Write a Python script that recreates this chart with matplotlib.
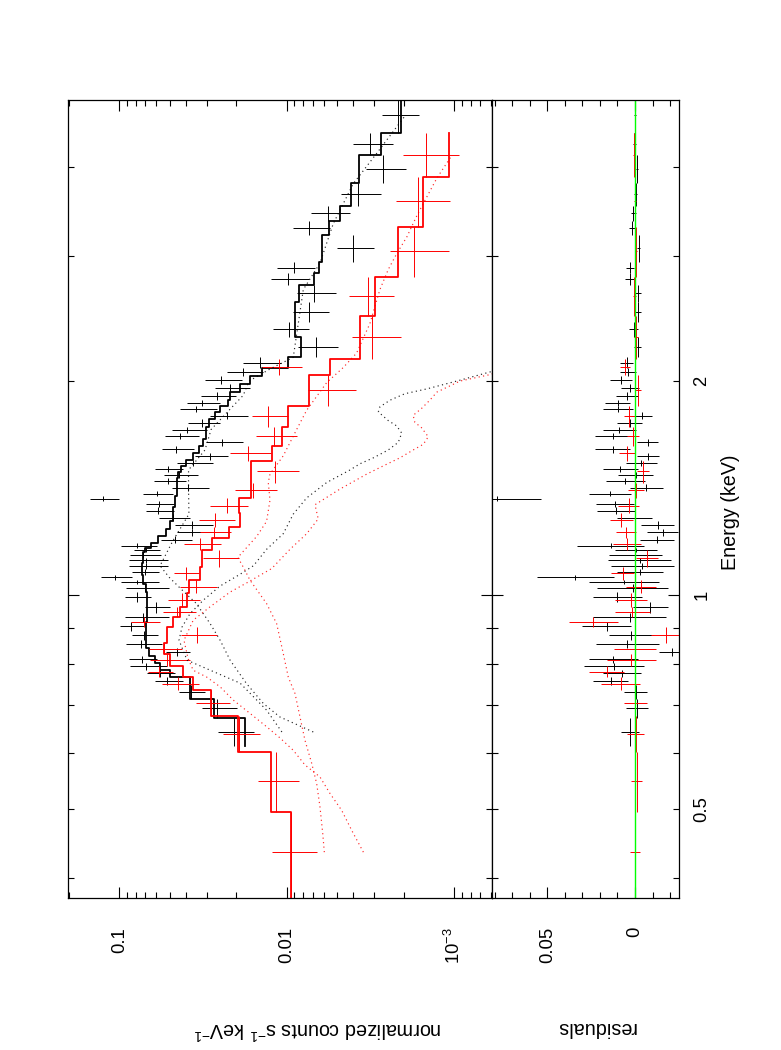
import numpy as np
import matplotlib
matplotlib.use("Agg")
import matplotlib.pyplot as plt
from matplotlib.ticker import FixedLocator, FixedFormatter, FuncFormatter, MultipleLocator, LogLocator, NullFormatter

# bin edges in keV, rates in units of 1e-3 counts s^-1 keV^-1
black_edges = [0.6132, 0.6721, 0.7152, 0.7471, 0.7675, 0.7856, 0.8028, 0.8212, 0.8436, 0.8652,
               0.8905, 0.9163, 0.9449, 0.9776, 1.01, 1.036, 1.051, 1.069, 1.09, 1.109, 1.129, 1.149, 1.163,
               1.183, 1.211, 1.24, 1.271, 1.3, 1.329, 1.355, 1.377, 1.401, 1.431, 1.461, 1.489, 1.517,
               1.55, 1.587, 1.623, 1.66, 1.693, 1.725, 1.768, 1.809, 1.843, 1.882, 1.931, 1.983, 2.031,
               2.084, 2.164, 2.309, 2.423, 2.586, 2.729, 2.835, 2.943, 3.209, 3.358, 3.529, 3.794, 4.158,
               4.461, 5.002]
black_counts = [20.7, 26.1, 37.3, 51.6, 57.3, 69.2, 73.5, 45.2, 73.7, 71.4, 85.5, 71.7, 60, 78.7,
                70.7, 78.1, 106, 70.6, 69.3, 69.3, 71.7, 69.4, 78.7, 46.7, 36.8, 36.9, 47.8, 58.4, 57.9,
                125, 59.7, 38.9, 50.9, 43.9, 51.4, 36.4, 28.8, 45.9, 24.3, 43.2, 39.3, 32.1, 22.9, 34.8,
                32.2, 26.2, 21.7, 24.7, 18.3, 14.5, 6.73, 9.74, 7.37, 6.85, 9.86, 9.11, 4.01, 7.33, 5.7,
                3.75, 2.65, 3.18, 2.17]
black_err = [4.9, 6.2, 6.5, 10, 11, 17, 14, 7.4, 18, 13, 14, 21, 10, 14, 20, 20, 22, 13, 18, 18,
             15, 12, 19, 9.7, 8.7, 9.4, 10, 11, 11, 25, 12, 9.6, 11, 10, 9.9, 9, 6.5, 10, 6.1, 9.9, 9.2,
             7, 5.9, 8.6, 7.2, 6.2, 5.1, 6.2, 4.5, 3.7, 1.8, 2.4, 1.8, 1.8, 2.5, 2.3, 1, 1.8, 1.5, 1,
             0.72, 0.86, 0.55]
black_model = [17.8, 27.2, 37.8, 37.8, 49.8, 57.1, 61.2, 66.2, 69.3, 69.3, 69.3, 68.6, 68.6, 68.6,
               69.3, 71.9, 71.9, 73.5, 73.5, 71.9, 71.9, 70.2, 64.9, 59, 52.6, 49.8, 47.6, 47.6, 46.5,
               46.5, 45.4, 45.4, 45.4, 44.4, 43, 40, 36.2, 33.3, 31.5, 30.4, 30.4, 29.1, 26.8, 25, 22.3,
               21.8, 19, 16.6, 14.1, 9.88, 8.19, 8.93, 8.93, 8.42, 6.88, 6.4, 6.14, 5.62, 4.81, 4.15, 3.69,
               2.75, 2.08]

red_edges = [0.3748, 0.4952, 0.6008, 0.6758, 0.7351, 0.766, 0.7946, 0.8261, 0.8552, 0.9024, 0.9303,
             0.9628, 1.006, 1.05, 1.096, 1.157, 1.202, 1.248, 1.305, 1.368, 1.44, 1.545, 1.622, 1.725,
             1.846, 2.039, 2.146, 2.471, 2.804, 3.297, 3.869, 4.461]
red_counts = [9.38, 11.6, 19.2, 28.3, 44.4, 57.8, 52, 54.3, 34.6, 71.3, 45, 42, 34.8, 40.1, 25.4,
              32.8, 27.2, 26.8, 22.9, 15.9, 11.7, 17.1, 12, 13, 5.68, 11.1, 3.08, 3.28, 1.75, 1.65, 1.48]
red_err = [2.8, 3.2, 4.7, 6.5, 11, 10, 14, 12, 8.4, 14, 10, 9, 8.6, 6.8, 6.1, 8.1, 5.8, 6.5, 5.8,
           4.4, 3.3, 4.6, 3.3, 3.2, 1.8, 3, 0.99, 1, 0.67, 0.59, 0.54]
red_model = [9.44, 12.5, 19.5, 28.5, 36.2, 41.8, 49.8, 54.1, 52.1, 47.6, 43.4, 39.6, 38.2, 33,
             32.2, 28.1, 22, 19, 19.2, 16.4, 16.4, 12.3, 10.7, 9.8, 7.4, 5.52, 3.66, 2.99, 2.18, 1.53, 1.07]

# model components (dotted)
black_cool_E = [0.642, 0.689, 0.752, 0.81, 0.864, 0.902, 0.942, 0.984, 1.03, 1.07, 1.1, 1.16, 1.22,
                1.3, 1.37, 1.44, 1.5, 1.53, 1.56, 1.6, 1.64, 1.69, 1.73, 1.76, 1.81, 1.84, 1.88, 1.92, 1.95,
                2, 2.06, 2.13]
black_cool = [10.7, 13.2, 19, 39.4, 44, 42.2, 37.8, 31.5, 25, 19, 15.8, 13.2, 10.5, 9.15, 7.61,
              5.78, 4.19, 3.66, 3.04, 2.48, 2.16, 2.06, 2.21, 2.48, 2.84, 2.78, 2.42, 1.97, 1.46, 0.968,
              0.612, 0.373]
black_hot_E = [0.642, 0.674, 0.704, 0.751, 0.81, 0.864, 0.912, 0.974, 1.02, 1.06, 1.1, 1.19, 1.3,
               1.41, 1.5, 1.6, 1.71, 1.82, 1.91, 2, 2.08, 2.16, 2.41, 2.69, 2.93, 3.33, 3.79, 4.18, 4.72]
black_hot = [6.95, 11, 13.8, 17.4, 21.8, 25, 28.7, 34.8, 42.8, 50.5, 57.1, 48.1, 38.4, 38.6,
             38.6, 30.8, 28.3, 22.1, 18.2, 16.8, 12.6, 9.15, 8.54, 7.97, 6.34, 5.28, 4.01, 2.91, 1.97]
red_cool_E = [0.435, 0.467, 0.498, 0.526, 0.555, 0.577, 0.605, 0.63, 0.653, 0.682, 0.712, 0.743,
              0.767, 0.784, 0.815, 0.864, 0.922, 0.963, 1.01, 1.04, 1.09, 1.16, 1.22, 1.28, 1.34, 1.41,
              1.48, 1.52, 1.56, 1.6, 1.63, 1.67, 1.72, 1.75, 1.79, 1.83, 1.88, 1.93, 2, 2.04, 2.1]
red_cool = [3.49, 4.1, 4.7, 5.52, 6.34, 7.79, 9.15, 11, 13.2, 16.6, 20.9, 25, 30.1, 36.2, 38.9,
            41.1, 36.2, 28.7, 21.8, 17.4, 12.3, 9.57, 7.61, 6.49, 6.79, 4.81, 3.33, 2.65, 2.11, 1.76,
            1.53, 1.43, 1.57, 1.72, 1.76, 1.57, 1.4, 1.27, 0.925, 0.627, 0.405]
red_hot_E = [0.435, 0.462, 0.504, 0.543, 0.58, 0.625, 0.674, 0.727, 0.767, 0.828, 0.912, 0.973,
             1.05, 1.09, 1.13, 1.21, 1.27, 1.36, 1.44, 1.48, 1.57, 1.71, 1.82, 1.99, 2.09, 2.19, 2.41,
             2.69, 2.87, 3.02, 3.19, 3.41, 3.63, 3.86, 4.16]
red_hot = [5.97, 6.1, 6.34, 6.63, 7.1, 7.79, 8.34, 8.93, 9.8, 10.5, 11.5, 13.2, 16.6, 18, 19.6,
           15.1, 13.2, 12.6, 12.9, 12.6, 10.5, 8.73, 7.61, 5.78, 4.6, 3.83, 3.19, 2.78, 2.48, 2.21,
           1.92, 1.68, 1.46, 1.27, 1.03]

count_ticks = [0.1, 0.01, 1e-3]
count_labels = ['0.1', '0.01', '$10^{-3}$']
resid_ticks = [0, 0.05]
resid_labels = ['0', '0.05']
energy_minor = [0.4, 0.5, 0.6, 0.7, 0.8, 0.9, 2, 3, 4]
energy_labels = {0.5: '0.5', 2.0: '2'}

plt.rcParams['font.family'] = ['Liberation Sans', 'DejaVu Sans']
plt.rcParams['mathtext.fontset'] = 'custom'
plt.rcParams['mathtext.rm'] = 'Liberation Sans'
plt.rcParams['mathtext.default'] = 'regular'

W, H = 781, 1050
fig = plt.figure(figsize=(W / 100, H / 100), dpi=100)
# the page is drawn turned by 90 degrees: energy runs upwards, rates grow to the left
ax1 = fig.add_axes([68.3 / W, 1 - 898 / H, 424 / W, 798 / H])
ax2 = fig.add_axes([492.3 / W, 1 - 898 / H, 187 / W, 798 / H], sharey=ax1)
ax1.set_xscale('log')
ax1.set_yscale('log')
ax1.set_xlim(0.2016, 5.93e-4)
ax1.set_ylim(0.375, 4.97)
ax2.set_xlim(0.08135, -0.02526)


def draw(edges, counts, err, model, col):
    edges = np.array(edges)
    counts = np.array(counts) * 1e-3
    err = np.array(err) * 1e-3
    model = np.array(model) * 1e-3
    lo, hi = edges[:-1], edges[1:]
    ec = (lo + hi) / 2
    ey = [ec - lo, hi - ec]
    ax1.errorbar(counts, ec, xerr=err, yerr=ey, fmt='none', ecolor=col, elinewidth=0.7, capsize=0)
    ax1.plot(np.repeat(model, 2), np.column_stack([lo, hi]).ravel(), color=col, lw=1.3)
    ax2.errorbar(counts - model, ec, xerr=err, yerr=ey, fmt='none', ecolor=col, elinewidth=0.7, capsize=0)


draw(black_edges, black_counts, black_err, black_model, 'black')
draw(red_edges, red_counts, red_err, red_model, 'red')
for e, c, col in ((black_cool_E, black_cool, 'black'), (black_hot_E, black_hot, 'black'),
                  (red_cool_E, red_cool, 'red'), (red_hot_E, red_hot, 'red')):
    ax1.plot(np.array(c) * 1e-3, e, color=col, lw=0.85, alpha=0.85, ls=(0, (1, 2.8)))
ax2.axvline(0, color='#00ff00', lw=1.0)

ax1.xaxis.set_major_locator(FixedLocator(count_ticks))
ax1.xaxis.set_major_formatter(FixedFormatter(count_labels))
ax1.xaxis.set_minor_locator(LogLocator(base=10, subs=np.arange(2, 10)))
ax1.xaxis.set_minor_formatter(NullFormatter())
ax1.yaxis.set_major_locator(FixedLocator([1]))
ax1.yaxis.set_major_formatter(FixedFormatter(['1']))
ax1.yaxis.set_minor_locator(FixedLocator(energy_minor))
ax1.yaxis.set_minor_formatter(FuncFormatter(lambda v, p: energy_labels.get(round(v, 2), '')))
ax2.xaxis.set_major_locator(FixedLocator(resid_ticks))
ax2.xaxis.set_major_formatter(FixedFormatter(resid_labels))
ax2.xaxis.set_minor_locator(MultipleLocator(0.01))

for ax in (ax1, ax2):
    ax.tick_params(which='both', direction='in', top=True, bottom=True, left=True, right=True,
                   width=0.8, labelsize=13.3, labelleft=False, labeltop=False)
    ax.tick_params(which='major', length=8)
    ax.tick_params(which='minor', length=4.3)
    ax.tick_params(axis='x', which='both', labelrotation=90, pad=20.9)
    for s in ax.spines.values():
        s.set_linewidth(0.9)
ax1.tick_params(axis='y', which='both', labelright=False)
ax2.tick_params(axis='y', which='both', labelright=True, labelrotation=90, pad=10)
for t in ax2.yaxis.get_major_ticks() + ax2.yaxis.get_minor_ticks():
    t.label2.set_va('center')

fig.text(318 / W, 1 - 1029 / H, 'normalized counts s$^{-1}$ keV$^{-1}$', rotation=180,
         ha='center', va='center', fontsize=14.2)
fig.text(595.5 / W, 1 - 1028 / H, 'residuals', rotation=180, ha='center', va='center', fontsize=14.2)
fig.text(730 / W, 1 - 512 / H, 'Energy (keV)', rotation=90, ha='center', va='center', fontsize=14.2)
fig.savefig('out.png', dpi=100)
